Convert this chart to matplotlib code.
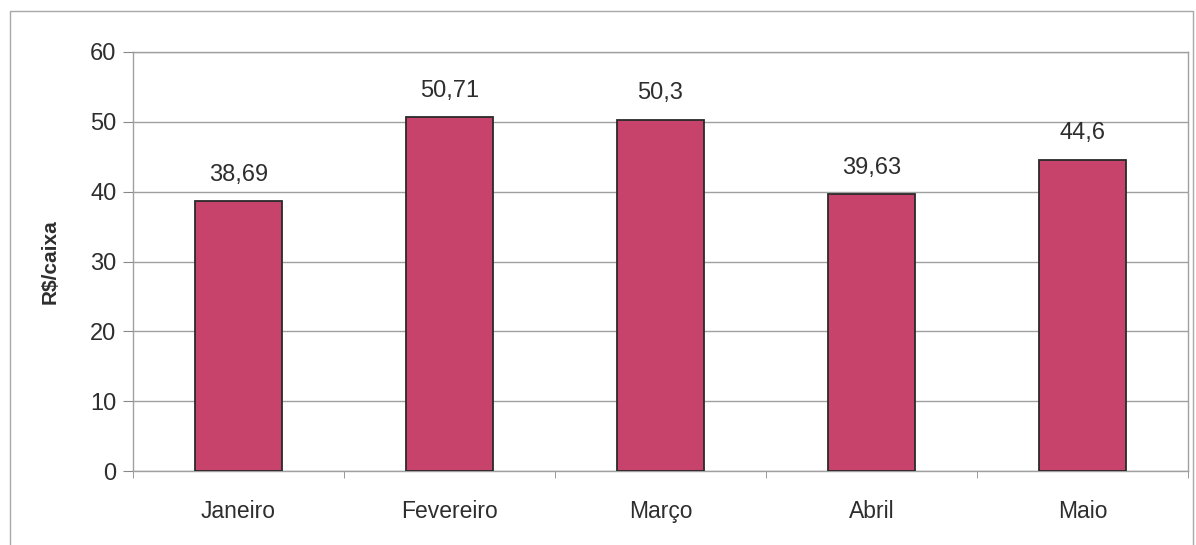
import matplotlib.pyplot as plt
from matplotlib.patches import Rectangle

# Preço médio por caixa, janeiro a maio
meses = ["Janeiro", "Fevereiro", "Março", "Abril", "Maio"]
precos = [38.69, 50.71, 50.3, 39.63, 44.6]
rotulos = ["38,69", "50,71", "50,3", "39,63", "44,6"]
yticks = [0, 10, 20, 30, 40, 50, 60]

plt.rcParams['font.family'] = ['Liberation Sans', 'DejaVu Sans']

W, H = 1196, 545
fig = plt.figure(figsize=(W / 100, H / 100), dpi=100)
fig.patch.set_facecolor('white')

# moldura externa do gráfico
fig.add_artist(Rectangle((10 / W, -0.01), (1193 - 10) / W, 1.01 - 11 / H,
                         transform=fig.transFigure, fill=False,
                         edgecolor='#a8a8a8', linewidth=1.0))

ax = fig.add_axes([133 / W, 1 - 471 / H, (1188 - 133) / W, (471 - 52) / H])

x = range(len(meses))
ax.bar(x, precos, width=0.41, color='#c8436c', edgecolor='#2a2a2a',
       linewidth=1.3, zorder=3)

for xi, v, t in zip(x, precos, rotulos):
    ax.annotate(t, (xi, v), xytext=(0, 11), textcoords='offset points',
                ha='center', va='bottom', fontsize=17, color='#2e2e2e')

ax.set_xlim(-0.5, len(meses) - 0.5)
ax.set_ylim(0, 60)
ax.set_yticks(yticks)
ax.set_yticklabels([str(t) for t in yticks], fontsize=17, color='#2e2e2e')
ax.set_xticks(list(x))
ax.set_xticklabels(meses, fontsize=16.5, color='#2e2e2e')
ax.tick_params(axis='x', length=0, pad=21)
ax.tick_params(axis='y', length=7, color='#888888', pad=5)

# marcas entre as categorias
ax.set_xticks([i - 0.5 for i in range(len(meses) + 1)], minor=True)
ax.tick_params(axis='x', which='minor', length=5, color='#888888')

ax.yaxis.grid(True, color='#a0a0a0', linewidth=1.0, zorder=0)
for s in ['left', 'bottom', 'right', 'top']:
    ax.spines[s].set_color('#a0a0a0')
    ax.spines[s].set_linewidth(1.0)

ax.set_ylabel("R$/caixa", fontsize=15, fontweight='bold', color='#2e2e2e',
              labelpad=22)

fig.savefig('out.png', dpi=100)
